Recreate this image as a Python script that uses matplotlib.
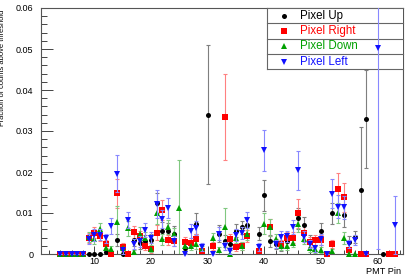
import numpy as np
import matplotlib.pyplot as plt
from matplotlib.ticker import MultipleLocator
from matplotlib.patches import Rectangle

nan = np.nan
pins = np.arange(4, 65)

# values for pins 4..64
pixel_up = [0, 0, 0, 0, 0, 0, 0, 0, 0.0006, 0, 0.0034, 0, 0, 0.0034, 0.0028, 0.0031, 0.0033,
            0.0124, 0.0057, 0.0055, 0.0049, nan, 0.0015, nan, 0.0074, nan, 0.034, nan, 0.005,
            0.0032, 0.0025, 0.0057, 0.0065, 0.007, nan, 0.005, 0.0143, 0.0032, 0.0024, 0.002,
            0.0032, nan, 0.0087, 0.007, 0.0032, nan, 0.0057, nan, 0.0099, nan, 0.0095, 0.003,
            0.0042, 0.0155, 0.033, nan, nan, 0, nan, nan, nan]
pixel_up_err = [0, 0, 0, 0, 0, 0, 0, 0, 0.0006, 0, 0.0015, 0, 0, 0.0015, 0.0015, 0.0015, 0.0015,
                0.0025, 0.002, 0.002, 0.002, nan, 0.0012, nan, 0.0025, nan, 0.017, nan, 0.002,
                0.0015, 0.0015, 0.0015, 0.0015, 0.002, nan, 0.0015, 0.0038, 0.0015, 0.0012, 0.0012,
                0.0015, nan, 0.0025, 0.002, 0.0015, nan, 0.0018, nan, 0.0025, nan, 0.0028, 0.0015,
                0.0015, 0.0155, 0.012, nan, nan, 0, nan, nan, nan]

pixel_right = [0, 0, 0, 0, 0, 0.004, 0.0052, 0.0044, 0.0024, 0, 0.0148, 0.0018, 0, 0.0054, 0.0044,
               0.002, 0.0011, 0.0052, 0.0107, 0.0034, 0.0032, nan, 0.003, 0.0028, 0.0036, 0.0007,
               nan, 0.002, nan, 0.0335, 0.0036, 0.0017, 0.002, 0.0044, nan, 0.0007, nan, 0.0065,
               nan, 0.0024, 0.004, 0.004, 0.0099, 0.0052, 0.003, 0.0034, 0.0034, 0, 0.0025, 0.0159,
               0.0138, 0.0009, nan, 0, 0, nan, nan, nan, 0, 0, nan]
pixel_right_err = [0, 0, 0, 0, 0, 0.0012, 0.0013, 0.0012, 0.001, 0, 0.0035, 0.001, 0, 0.0015, 0.0013,
                   0.001, 0.0008, 0.0018, 0.0025, 0.0012, 0.0012, nan, 0.0012, 0.0012, 0.0013, 0.0007,
                   nan, 0.001, nan, 0.0105, 0.0013, 0.001, 0.001, 0.0015, nan, 0.0007, nan, 0.002,
                   nan, 0.001, 0.0013, 0.0013, 0.0036, 0.0018, 0.0012, 0.0013, 0.0013, 0, 0.001, 0.0038,
                   0.0035, 0.0008, nan, 0, 0, nan, nan, nan, 0, 0, nan]

pixel_down = [0, 0, 0, 0, 0, 0.0042, 0.0036, 0.006, 0.0015, 0.0012, 0.0077, 0.0015, 0.0063, 0.0005,
              0.005, 0.004, 0.0013, 0.0099, 0.0036, 0.0066, 0.0048, 0.0113, 0.002, 0.002, 0.0025,
              0.0012, nan, 0.0039, 0.0009, 0.0065, 0, 0.004, 0.002, 0.005, nan, nan, 0.0074, 0.0065,
              0.0036, 0.002, 0.002, 0.0028, 0.0073, 0.0037, 0.0015, 0.0011, 0.001, nan, 0.0007, 0.01,
              0.0039, 0, 0, nan, nan, nan, nan, nan, nan, nan, nan]
pixel_down_err = [0, 0, 0, 0, 0, 0.0012, 0.0012, 0.0015, 0.001, 0.0008, 0.004, 0.001, 0.0018, 0.0005,
                  0.0015, 0.0013, 0.0008, 0.0025, 0.0013, 0.0018, 0.0015, 0.0117, 0.001, 0.001, 0.0012,
                  0.0008, nan, 0.0013, 0.0008, 0.0048, 0, 0.0013, 0.001, 0.0015, nan, nan, 0.0025, 0.002,
                  0.0013, 0.001, 0.001, 0.0012, 0.002, 0.0013, 0.001, 0.0008, 0.0008, nan, 0.0006, 0.0025,
                  0.0015, 0, 0, nan, nan, nan, nan, nan, nan, nan, nan]

pixel_left = [0, 0, 0, 0, 0, 0.0037, 0.0046, 0.0047, 0.0038, 0.0069, 0.0196, 0.0009, 0.0083, 0.0025,
              0.0031, 0.0058, 0.004, 0.0122, 0.0085, 0.0112, 0.0032, nan, 0, 0.0057, 0.0064, 0.0017,
              nan, 0, 0.005, 0.002, 0.0008, 0.0047, 0.0052, 0.0083, nan, 0.0018, 0.0253, nan, 0.0024,
              0.0042, 0.0043, 0.0065, 0.0204, 0.0042, 0.0025, 0.0014, 0.0036, 0, 0.0147, 0.0115,
              0.0114, 0.0025, 0.0034, nan, 0, nan, 0.0503, nan, nan, 0.0071, nan]
pixel_left_err = [0, 0, 0, 0, 0, 0.0012, 0.0014, 0.0014, 0.0012, 0.002, 0.0045, 0.0008, 0.002, 0.0012,
                  0.0013, 0.0017, 0.0013, 0.0035, 0.0022, 0.0025, 0.0012, nan, 0, 0.0017, 0.0017, 0.001,
                  nan, 0, 0.0015, 0.001, 0.0008, 0.0015, 0.0015, 0.002, nan, 0.001, 0.005, nan, 0.001,
                  0.0013, 0.0013, 0.0017, 0.0048, 0.0013, 0.001, 0.0008, 0.0013, 0, 0.0035, 0.0028,
                  0.0028, 0.001, 0.0012, nan, 0, nan, 0.049, nan, nan, 0.0071, nan]

names = ['Pixel Up', 'Pixel Right', 'Pixel Down', 'Pixel Left']
series = [(pixel_up, pixel_up_err), (pixel_right, pixel_right_err),
          (pixel_down, pixel_down_err), (pixel_left, pixel_left_err)]
colors = ['#000000', '#ff0000', '#00a000', '#1010ff']
err_colors = ['#7f7f7f', '#ff8080', '#80c880', '#8888ff']
markers = ['o', 's', '^', 'v']
msizes = [3.6, 3.8, 3.8, 3.8]
# the last graph was drawn after the legend, so it shows on top of it
zs = [2, 2, 2, 7]

plt.rcParams['font.family'] = ['Liberation Sans', 'DejaVu Sans']

fig = plt.figure(figsize=(4.07, 2.78), dpi=100)
ax = fig.add_axes([41 / 407, 1 - 254 / 278, 362 / 407, 246 / 278])

for (vals, errs), ec, z in zip(series, err_colors, zs):
    ax.errorbar(pins, np.array(vals, dtype=float), yerr=np.array(errs, dtype=float),
                fmt='none', ecolor=ec, elinewidth=0.8, capsize=1.2, capthick=0.8, zorder=z)
for (vals, errs), c, m, ms, z in zip(series, colors, markers, msizes, zs):
    ax.plot(pins, np.array(vals, dtype=float), linestyle='none', marker=m,
            markersize=ms, color=c, markeredgewidth=0, clip_on=False, zorder=z + 1)

ax.set_xlim(0.6, 64.5)
ax.set_ylim(0, 0.06)
ax.xaxis.set_major_locator(MultipleLocator(10))
ax.xaxis.set_minor_locator(MultipleLocator(2))
ax.yaxis.set_major_locator(MultipleLocator(0.01))
ax.yaxis.set_minor_locator(MultipleLocator(0.002))
ax.yaxis.set_major_formatter(plt.FuncFormatter(lambda v, p: '0' if v == 0 else f'{v:.2f}'))
ax.tick_params(axis='both', which='both', direction='in', colors='#444444',
               labelcolor='black', labelsize=6.5, width=0.7)
ax.tick_params(axis='y', which='major', length=8.6, pad=5.5)
ax.tick_params(axis='y', which='minor', length=4.3)
ax.tick_params(axis='x', which='major', length=5.8, pad=2)
ax.tick_params(axis='x', which='minor', length=2.9)
for s in ax.spines.values():
    s.set_color('#555555')
    s.set_linewidth(0.8)

ax.set_xlabel('PMT Pin', fontsize=6.6, loc='right')
ax.xaxis.set_label_coords(0.994, -0.052)
ax.set_ylabel('Fraction of counts above threshold', fontsize=5.4, loc='top')
ax.yaxis.set_label_coords(-0.097, 0.995)

# legend box with row separators
x0, row_h = (267 - 41) / 362, 15.33 / 246
top = 1.0
ax.add_patch(Rectangle((x0, top - 4 * row_h), 1 - x0, 4 * row_h, transform=ax.transAxes,
                       facecolor='white', edgecolor='none', zorder=4))
ax.plot([x0, x0], [top - 4 * row_h, top], transform=ax.transAxes, color='#666666',
        lw=0.8, clip_on=False, zorder=5)
for i in range(5):
    yy = top - i * row_h
    ax.plot([x0, 1.0], [yy, yy], transform=ax.transAxes, color='#666666', lw=0.8,
            clip_on=False, zorder=5)
for i, (n, c, m, ms) in enumerate(zip(names, colors, markers, msizes)):
    yc = top - (i + 0.5) * row_h
    ax.plot([(284 - 41) / 362], [yc], transform=ax.transAxes, marker=m, markersize=ms,
            color=c, markeredgewidth=0, linestyle='none', zorder=6)
    ax.text((300 - 41) / 362, yc, n, transform=ax.transAxes, color=c, fontsize=8.3,
            va='center', ha='left', zorder=6)

fig.savefig('out.png', dpi=100)
